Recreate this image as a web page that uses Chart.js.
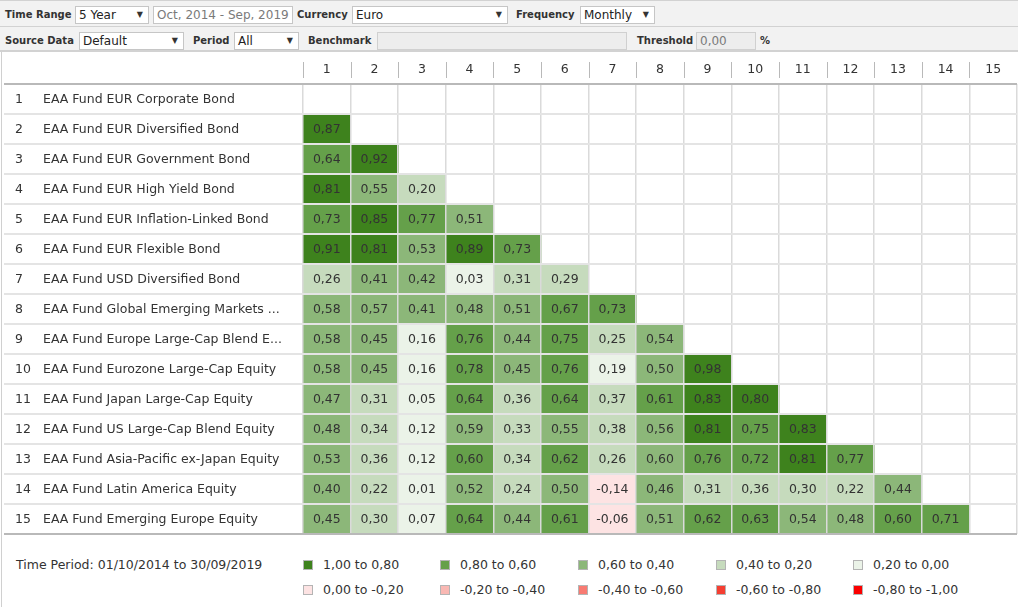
<!DOCTYPE html>
<html lang="en">
<head>
  <meta charset="UTF-8">
  <title>Correlation Matrix</title>
  <style>
    body {
      margin: 0;
      font-family: "DejaVu Sans", Verdana, sans-serif;
      color: #333;
      background: #fff;
    }
    .page {
      position: relative;
      width: 1018px;
      height: 607px;
      overflow: hidden;
    }
    .bar {
      position: absolute;
      left: 0;
      width: 1018px;
      background: #f2f2f2;
      border-bottom: 2px solid #d2d2d2;
    }
    .bar1 { top: 0; height: 25px; border-top: 1px solid #d2d2d2; }
    .bar2 { top: 27px; height: 23px; }
    .lbl {
      position: absolute;
      font-weight: bold;
      font-size: 10px;
      line-height: 12px;
      color: #333;
    }
    .box {
      position: absolute;
      background: #fff;
      border: 1px solid #c6c6c6;
      font-size: 12px;
      height: 18px;
      line-height: 16px;
      padding-left: 3px;
      box-sizing: border-box;
      color: #222;
      white-space: nowrap;
      overflow: hidden;
    }
    .box .arr {
      position: absolute;
      right: 5px;
      top: 0;
      font-size: 8px;
      color: #333;
    }
    .grey { color: #7a7a7a; }
    .dis { background: #ededed; border-color: #d0d0d0; }
    .frame {
      position: absolute;
      left: 1px;
      top: 52px;
      width: 1px;
      height: 555px;
      background: #d0d0d0;
    }
    #matrix { position: absolute; left: 0; top: 52px; }
    .legend {
      position: absolute;
      font-size: 12.5px;
      color: #333;
      line-height: 14px;
      white-space: nowrap;
    }
    .sw {
      position: absolute;
      width: 8px;
      height: 8px;
      border: 1px solid #b4b4b4;
    }
  </style>
</head>
<body>
<div class="page">
  <div class="bar bar1"></div>
  <div class="bar bar2"></div>

  <div class="lbl" style="left:5px; top:9px;">Time Range</div>
  <div class="box" style="left:75px; top:6px; width:74px;">5 Year<span class="arr">&#9660;</span></div>
  <div class="box grey" style="left:153px; top:6px; width:140px;">Oct, 2014 - Sep, 2019</div>
  <div class="lbl" style="left:297px; top:9px;">Currency</div>
  <div class="box" style="left:352px; top:6px; width:156px;">Euro<span class="arr">&#9660;</span></div>
  <div class="lbl" style="left:516px; top:9px;">Frequency</div>
  <div class="box" style="left:580px; top:6px; width:75px;">Monthly<span class="arr">&#9660;</span></div>

  <div class="lbl" style="left:5px; top:35px;">Source Data</div>
  <div class="box" style="left:79px; top:32px; width:105px;">Default<span class="arr">&#9660;</span></div>
  <div class="lbl" style="left:193px; top:35px;">Period</div>
  <div class="box" style="left:234px; top:32px; width:65px;">All<span class="arr">&#9660;</span></div>
  <div class="lbl" style="left:308px; top:35px;">Benchmark</div>
  <div class="box dis" style="left:377px; top:32px; width:250px;"></div>
  <div class="lbl" style="left:637px; top:35px;">Threshold</div>
  <div class="box dis grey" style="left:696px; top:32px; width:60px;">0,00</div>
  <div class="lbl" style="left:760px; top:35px;">%</div>

  <div class="frame"></div>
  <canvas id="matrix" width="1018" height="486"></canvas>

  <div id="legend"></div>
</div>

<script src="https://cdn.jsdelivr.net/npm/chart.js"></script>
<script>
  const columns = ['1', '2', '3', '4', '5', '6', '7', '8', '9', '10', '11', '12', '13', '14', '15'];
  const rowNumbers = ['1', '2', '3', '4', '5', '6', '7', '8', '9', '10', '11', '12', '13', '14', '15'];
  const rowNames = [
    'EAA Fund EUR Corporate Bond',
    'EAA Fund EUR Diversified Bond',
    'EAA Fund EUR Government Bond',
    'EAA Fund EUR High Yield Bond',
    'EAA Fund EUR Inflation-Linked Bond',
    'EAA Fund EUR Flexible Bond',
    'EAA Fund USD Diversified Bond',
    'EAA Fund Global Emerging Markets ...',
    'EAA Fund Europe Large-Cap Blend E...',
    'EAA Fund Eurozone Large-Cap Equity',
    'EAA Fund Japan Large-Cap Equity',
    'EAA Fund US Large-Cap Blend Equity',
    'EAA Fund Asia-Pacific ex-Japan Equity',
    'EAA Fund Latin America Equity',
    'EAA Fund Emerging Europe Equity'
  ];

  // lower triangle, one list per row
  const corr = [
    [],
    [0.87],
    [0.64, 0.92],
    [0.81, 0.55, 0.20],
    [0.73, 0.85, 0.77, 0.51],
    [0.91, 0.81, 0.53, 0.89, 0.73],
    [0.26, 0.41, 0.42, 0.03, 0.31, 0.29],
    [0.58, 0.57, 0.41, 0.48, 0.51, 0.67, 0.73],
    [0.58, 0.45, 0.16, 0.76, 0.44, 0.75, 0.25, 0.54],
    [0.58, 0.45, 0.16, 0.78, 0.45, 0.76, 0.19, 0.50, 0.98],
    [0.47, 0.31, 0.05, 0.64, 0.36, 0.64, 0.37, 0.61, 0.83, 0.80],
    [0.48, 0.34, 0.12, 0.59, 0.33, 0.55, 0.38, 0.56, 0.81, 0.75, 0.83],
    [0.53, 0.36, 0.12, 0.60, 0.34, 0.62, 0.26, 0.598, 0.76, 0.72, 0.81, 0.77],
    [0.40, 0.22, 0.01, 0.52, 0.24, 0.50, -0.14, 0.46, 0.31, 0.36, 0.30, 0.22, 0.44],
    [0.45, 0.30, 0.07, 0.64, 0.44, 0.61, -0.06, 0.51, 0.62, 0.63, 0.54, 0.48, 0.60, 0.71]
  ];

  const binLower = [0.8, 0.6, 0.4, 0.2, 0, -0.2, -0.4, -0.6, -0.8, -1];
  const binColors = ['#3e821d', '#65a04a', '#8cb779', '#c6dbbd', '#ebf3e8',
                     '#fde3e3', '#f9b8b3', '#f87b72', '#f53e31', '#fa0000'];
  const binLabels = ['1,00 to 0,80', '0,80 to 0,60', '0,60 to 0,40', '0,40 to 0,20', '0,20 to 0,00',
                     '0,00 to -0,20', '-0,20 to -0,40', '-0,40 to -0,60', '-0,60 to -0,80', '-0,80 to -1,00'];
  const periodText = 'Time Period: 01/10/2014 to 30/09/2019';

  const FONT = '"DejaVu Sans", Verdana, sans-serif';

  function colorFor(v) {
    for (let i = 0; i < binLower.length; i++) {
      if (v >= binLower[i]) return binColors[i];
    }
    return binColors[binColors.length - 1];
  }

  const cells = [];
  corr.forEach((row, r) => {
    row.forEach((v, c) => {
      cells.push({ x: columns[c], y: [r, r + 1], v: v });
    });
  });

  // row labels, cell values, header separators
  const matrixText = {
    id: 'matrixText',
    afterDraw(chart) {
      const { ctx, scales: { x, y } } = chart;
      ctx.save();
      ctx.font = '12.5px ' + FONT;
      ctx.fillStyle = '#333';
      ctx.textBaseline = 'middle';
      ctx.textAlign = 'left';
      rowNames.forEach((name, i) => {
        const py = y.getPixelForValue(i + 0.5) + 1;
        ctx.fillText(rowNumbers[i], 15, py);
        ctx.fillText(name, 43, py);
      });

      ctx.textAlign = 'center';
      chart.getDatasetMeta(0).data.forEach((bar, i) => {
        const p = bar.getCenterPoint();
        ctx.fillText(cells[i].v.toFixed(2).replace('.', ','), p.x, p.y + 1);
      });

      ctx.strokeStyle = '#b9b9b9';
      ctx.lineWidth = 1;
      const half = (x.right - x.left) / columns.length / 2;
      for (let i = 0; i < columns.length; i++) {
        const px = Math.round(x.getPixelForValue(i) - half) + 0.5;
        ctx.beginPath();
        ctx.moveTo(px, 10);
        ctx.lineTo(px, 26);
        ctx.stroke();
      }
      ctx.restore();
    }
  };

  new Chart(document.getElementById('matrix').getContext('2d'), {
    type: 'bar',
    data: {
      labels: columns,
      datasets: [{
        data: cells,
        backgroundColor: c => colorFor(c.raw.v),
        borderWidth: 0,
        barPercentage: 1,
        categoryPercentage: 1
      }]
    },
    options: {
      responsive: false,
      animation: false,
      layout: { padding: { left: 0, right: 1, top: 0, bottom: 4 } },
      plugins: {
        legend: { display: false },
        tooltip: { enabled: false }
      },
      scales: {
        x: {
          type: 'category',
          position: 'top',
          grid: { offset: true, color: '#dadada', lineWidth: 1.5, drawTicks: false, z: 1 },
          border: { display: false },
          ticks: { font: { family: FONT, size: 12.5 }, color: '#333', padding: 7 },
          afterFit: s => { s.height = 32; }
        },
        y: {
          type: 'linear',
          reverse: true,
          min: 0,
          max: 15,
          ticks: { stepSize: 1, display: false },
          grid: {
            color: c => (c.tick.value === 0 || c.tick.value === 15) ? '#b9b9b9' : '#e4e4e4',
            lineWidth: 2,
            tickLength: 299,
            z: 2
          },
          border: { display: false },
          afterFit: s => { s.width = 303; }
        }
      }
    },
    plugins: [matrixText]
  });

  // legend below the matrix
  const legend = document.getElementById('legend');
  legend.innerHTML = '<div class="legend" style="left:16px; top:558px;">' + periodText + '</div>';
  const legendX = [303, 440, 578, 716, 853];
  const legendY = [565, 590];
  binLabels.forEach((t, i) => {
    const lx = legendX[i % 5];
    const ly = legendY[Math.floor(i / 5)];
    legend.innerHTML +=
      '<div class="sw" style="left:' + lx + 'px; top:' + (ly - 5) + 'px; background:' + binColors[i] + ';"></div>' +
      '<div class="legend" style="left:' + (lx + 20) + 'px; top:' + (ly - 7) + 'px;">' + t + '</div>';
  });
</script>
</body>
</html>
